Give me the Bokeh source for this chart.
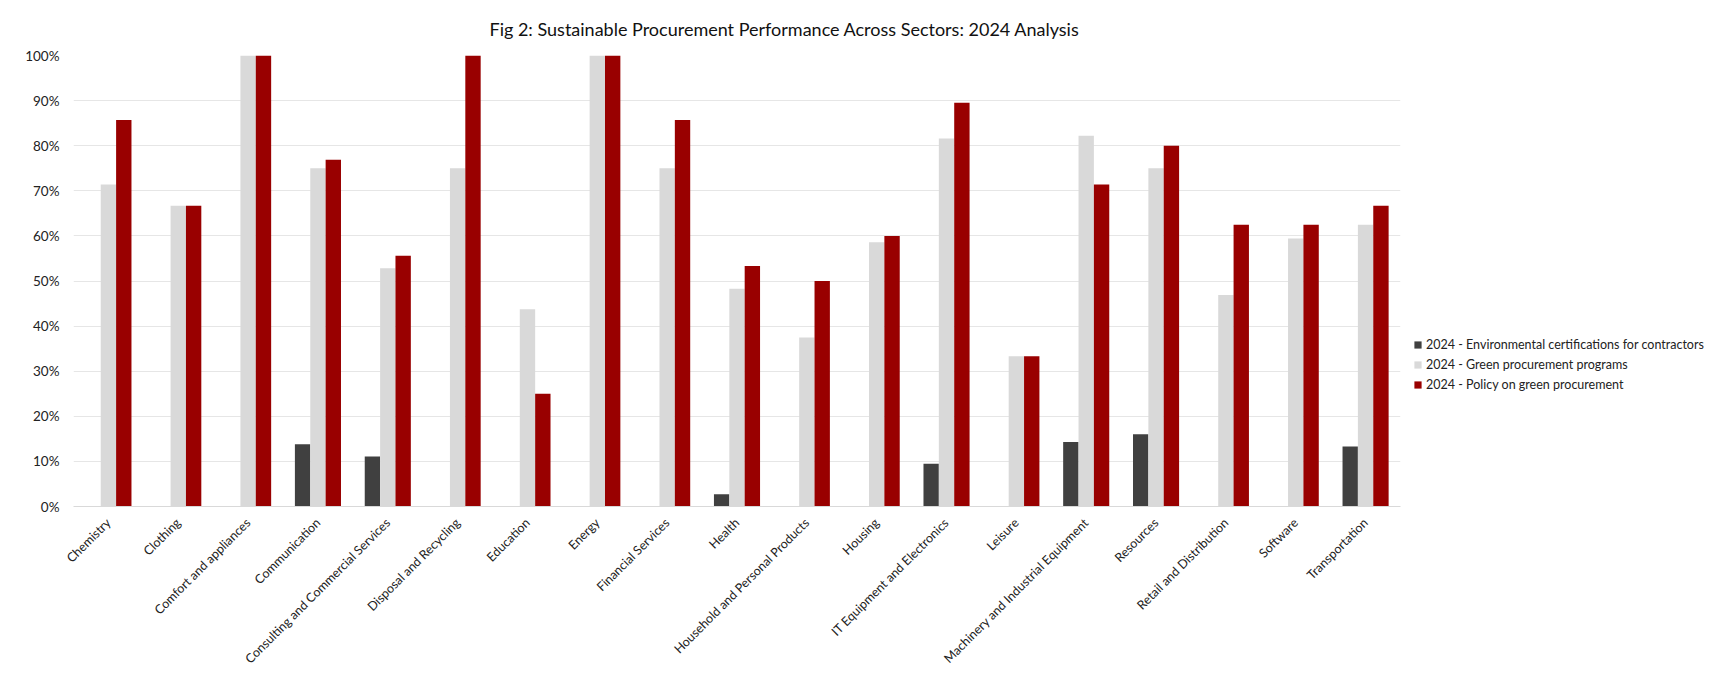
from math import pi

from bokeh.embed import file_html
from bokeh.models import ColumnDataSource, FixedTicker, Legend, LegendItem, NumeralTickFormatter
from bokeh.plotting import figure
from bokeh.resources import INLINE
from bokeh.transform import dodge

sectors = ['Chemistry', 'Clothing', 'Comfort and appliances', 'Communication',
           'Consulting and Commercial Services', 'Disposal and Recycling', 'Education',
           'Energy', 'Financial Services', 'Health', 'Household and Personal Products',
           'Housing', 'IT Equipment and Electronics', 'Leisure',
           'Machinery and Industrial Equipment', 'Resources', 'Retail and Distribution',
           'Software', 'Transportation']

env_cert = [0, 0, 0, 0.138, 0.111, 0, 0, 0, 0, 0.027, 0, 0, 0.095, 0, 0.143, 0.160, 0, 0, 0.133]
green_prog = [0.714, 0.667, 1.0, 0.75, 0.528, 0.75, 0.4375, 1.0, 0.75, 0.483, 0.375,
              0.586, 0.816, 0.333, 0.822, 0.75, 0.469, 0.594, 0.625]
policy = [0.857, 0.667, 1.0, 0.769, 0.556, 1.0, 0.25, 1.0, 0.857, 0.533, 0.5,
          0.60, 0.895, 0.333, 0.714, 0.80, 0.625, 0.625, 0.667]

y_ticks = [i / 10 for i in range(11)]

series_names = ['2024 - Environmental certifications for contractors',
                '2024 - Green procurement programs',
                '2024 - Policy on green procurement']

FONT = "Lato"

source = ColumnDataSource(data={'sector': sectors, 'env': env_cert,
                                'green': green_prog, 'policy': policy})

p = figure(x_range=sectors, y_range=(0, 1),
           title="Fig 2: Sustainable Procurement Performance Across Sectors: 2024 Analysis",
           frame_width=1327, frame_height=451,
           toolbar_location=None, tools="", output_backend="svg")

w = 0.22
r1 = p.vbar(x=dodge('sector', -w, range=p.x_range), top='env', source=source,
            width=w, color="#404040", line_color=None)
r2 = p.vbar(x=dodge('sector', 0.0, range=p.x_range), top='green', source=source,
            width=w, color="#d9d9d9", line_color=None)
r3 = p.vbar(x=dodge('sector', w, range=p.x_range), top='policy', source=source,
            width=w, color="#990000", line_color=None)

legend = Legend(items=[LegendItem(label=series_names[0], renderers=[r1]),
                       LegendItem(label=series_names[1], renderers=[r2]),
                       LegendItem(label=series_names[2], renderers=[r3])],
                location=(13, 112), padding=0, margin=0, spacing=0,
                glyph_width=9, glyph_height=9, label_height=20, label_standoff=4,
                label_text_font=FONT, label_text_font_size="12.5px",
                label_text_color="#222222", border_line_color=None,
                background_fill_alpha=0)
p.add_layout(legend, "right")

p.min_border_left = 73
p.min_border_top = 10
p.min_border_right = 0
p.min_border_bottom = 10

p.title.align = "left"
p.title.offset = 416
p.title.text_font = FONT
p.title.text_font_size = "18px"
p.title.text_font_style = "normal"
p.title.text_color = "#111111"
p.title.standoff = 31

p.outline_line_color = None
p.xgrid.grid_line_color = None
p.ygrid.grid_line_color = "#e6e6e6"
p.ygrid.grid_line_width = 1

p.yaxis.ticker = FixedTicker(ticks=y_ticks)
p.yaxis.formatter = NumeralTickFormatter(format="0%")
p.yaxis.axis_line_color = None
p.yaxis.major_tick_line_color = None
p.yaxis.minor_tick_line_color = None
p.yaxis.major_label_text_font = FONT
p.yaxis.major_label_text_font_size = "13.5px"
p.yaxis.major_label_text_color = "#222222"
p.yaxis.major_label_standoff = 8

p.xaxis.axis_line_color = "#d9d9d9"
p.xaxis.major_tick_line_color = None
p.xaxis.minor_tick_line_color = None
p.xaxis.major_label_orientation = pi / 4
p.xaxis.major_label_text_font = FONT
p.xaxis.major_label_text_font_size = "12.5px"
p.xaxis.major_label_text_color = "#222222"
p.xaxis.major_label_standoff = 8

open("out.html", "w").write(file_html(p, INLINE))
